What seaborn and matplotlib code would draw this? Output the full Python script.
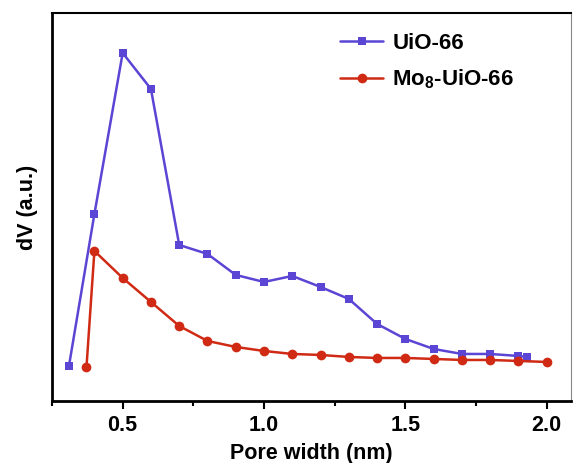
import numpy as np
import pandas as pd
import seaborn as sns
import matplotlib.pyplot as plt
from matplotlib.ticker import MultipleLocator

# pore size distribution, dV in arbitrary units
uio_x = [0.31, 0.4, 0.5, 0.6, 0.7, 0.8, 0.9, 1.0, 1.1, 1.2, 1.3, 1.4, 1.5, 1.6, 1.7, 1.8, 1.9, 1.93]
uio_dv = [0.37, 1.89, 3.50, 3.14, 1.58, 1.49, 1.28, 1.21, 1.27, 1.16, 1.04, 0.79, 0.64, 0.54, 0.49, 0.49, 0.47, 0.46]
mo_x = [0.372, 0.4, 0.5, 0.6, 0.7, 0.8, 0.9, 1.0, 1.1, 1.2, 1.3, 1.4, 1.5, 1.6, 1.7, 1.8, 1.9, 2.0]
mo_dv = [0.36, 1.52, 1.25, 1.01, 0.77, 0.62, 0.56, 0.52, 0.49, 0.48, 0.46, 0.45, 0.45, 0.44, 0.43, 0.43, 0.42, 0.41]

sns.set_theme(style="white")
plt.rcParams['font.family'] = ['Liberation Sans', 'DejaVu Sans']
plt.rcParams['font.weight'] = 'bold'
plt.rcParams['text.color'] = 'black'
plt.rcParams['axes.labelcolor'] = 'black'
plt.rcParams['xtick.color'] = 'black'
plt.rcParams['mathtext.fontset'] = 'custom'
plt.rcParams['mathtext.rm'] = 'Liberation Sans:bold'
plt.rcParams['mathtext.bf'] = 'Liberation Sans:bold'

BLUE = '#5B45D4'
RED = '#D02A14'

fig = plt.figure(figsize=(5.74, 4.63), dpi=100)
ax = fig.add_axes([0.0906, 0.134, 0.9042, 0.838])

sns.lineplot(x=uio_x, y=uio_dv, ax=ax, color=BLUE, marker='s', markersize=6,
             markeredgewidth=0, linewidth=1.8, label='UiO-66')
sns.lineplot(x=mo_x, y=mo_dv, ax=ax, color=RED, marker='o', markersize=7,
             markeredgewidth=0, linewidth=1.8, label='Mo$_{8}$-UiO-66')

ax.set_xlim(0.25, 2.086)
ax.set_ylim(0.02, 3.90)
ax.xaxis.set_major_locator(MultipleLocator(0.5))
ax.xaxis.set_minor_locator(MultipleLocator(0.25))
ax.set_yticks([])
ax.tick_params(axis='x', which='major', direction='out', length=6, width=1.5,
               labelsize=15.5, pad=4, bottom=True)
ax.tick_params(axis='x', which='minor', direction='out', length=3.5, width=1.5, bottom=True)
for lab in ax.get_xticklabels():
    lab.set_fontweight('bold')

ax.set_xlabel('Pore width (nm)', fontsize=15.5, fontweight='bold', labelpad=5)
ax.set_ylabel('dV (a.u.)', fontsize=15.5, fontweight='bold', labelpad=10)

for side in ['left', 'bottom']:
    ax.spines[side].set_linewidth(2)
    ax.spines[side].set_color('black')
ax.spines['top'].set_linewidth(1.5)
ax.spines['top'].set_color('black')
ax.spines['right'].set_linewidth(0.8)
ax.spines['right'].set_color('#888888')

leg = ax.legend(loc='upper left', bbox_to_anchor=(0.555, 0.948), frameon=False,
                prop={'size': 16, 'weight': 'bold'}, handlelength=1.95,
                labelspacing=0.6, handletextpad=0.4, borderpad=0, borderaxespad=0)

fig.savefig('out.png', dpi=100)
